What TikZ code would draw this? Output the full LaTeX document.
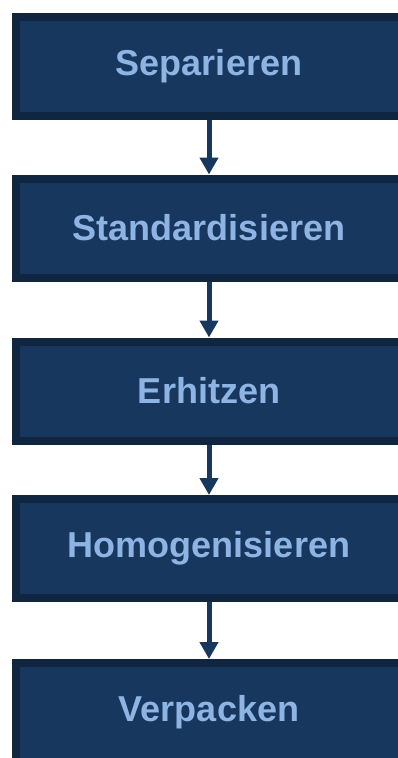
\documentclass[tikz,border=0pt]{standalone}
\usepackage{fontspec}
\setmainfont{Liberation Sans}
\usetikzlibrary{arrows.meta}
\definecolor{boxfill}{HTML}{17375E}
\definecolor{boxedge}{HTML}{10253F}
\definecolor{boxtext}{HTML}{8EB4E3}
\def\boxWidth{386}
\def\boxHeight{99}
\def\midX{209}
\begin{document}
\begin{tikzpicture}[x=1pt,y=-1pt,
	stepbox/.style={draw=boxedge,fill=boxfill,line width=8pt,outer sep=4pt,
		minimum width=\boxWidth pt,minimum height=\boxHeight pt,
		text=boxtext,font=\fontsize{36}{40}\selectfont\bfseries},
	flow/.style={draw=boxfill,line width=5pt,-{Triangle[width=18pt,length=17pt]}}]
\useasboundingbox (0,0) rectangle (398,758);
\node [stepbox] (sep) at (\midX,66.5) {Separieren};
\node [stepbox] (std) at (\midX,228) {Standardisieren};
\node [stepbox] (erh) at (\midX,391) {Erhitzen};
\node [stepbox] (hom) at (\midX,548.5) {Homogenisieren};
\node [stepbox] (ver) at (\midX,712.5) {Verpacken};
% arrows between the steps
\foreach \a/\b in {sep/std,std/erh,erh/hom,hom/ver}
	\draw [flow] (\a.south) -- (\b.north);
\end{tikzpicture}
\end{document}
